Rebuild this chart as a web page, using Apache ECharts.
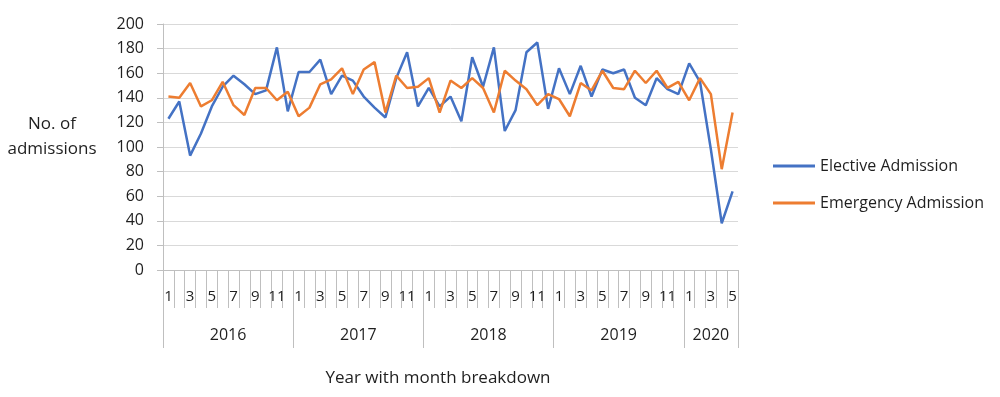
<!DOCTYPE html>
<html>
<head>
<meta charset="utf-8">
<script src="https://cdn.jsdelivr.net/npm/echarts@6/dist/echarts.min.js"></script>
<style>
  html, body { margin: 0; padding: 0; background: #fff; }
  #chart { width: 1000px; height: 397px; }
</style>
</head>
<body>
<div id="chart"></div>
<script>
// admissions per month, Jan 2016 .. May 2020
const years = ['2016', '2017', '2018', '2019', '2020']
const monthsPerYear = [12, 12, 12, 12, 5]

const elective = [
  123, 137, 93, 111, 133, 149, 158, 151, 143, 146, 181, 129,
  161, 161, 171, 143, 158, 154, 141, 132, 124, 156, 177, 133,
  148, 133, 141, 121, 173, 149, 181, 113, 130, 177, 185, 131,
  164, 143, 166, 141, 163, 160, 163, 140, 134, 156, 147, 143,
  168, 153, 98, 38, 64
]
const emergency = [
  141, 140, 152, 133, 138, 153, 134, 126, 148, 148, 138, 145,
  125, 132, 151, 155, 164, 143, 163, 169, 128, 158, 148, 149,
  156, 128, 154, 148, 156, 148, 128, 162, 154, 147, 134, 143,
  139, 125, 152, 146, 162, 148, 147, 162, 152, 162, 148, 153,
  138, 156, 143, 82, 128
]
const yTicks = [0, 200, 20]

// month categories and year group positions
const months = []
const yearStarts = []
const yearCenters = []
monthsPerYear.forEach((n) => {
  yearStarts.push(months.length)
  yearCenters.push(months.length + n / 2)
  for (let m = 1; m <= n; m++) months.push(String(m))
})
const total = months.length

const textColor = '#1f1f1f'
const lineGray = '#bfbfbf'
const font = '"Open Sans", "Liberation Sans", sans-serif'

const chart = echarts.init(document.getElementById('chart'), null, { renderer: 'canvas' })

const option = {
  animation: false,
  grid: { left: 163, right: 262, top: 24, bottom: 127 },
  legend: {
    orient: 'vertical',
    left: 768,
    top: 153,
    icon: 'rect',
    itemWidth: 42,
    itemHeight: 3,
    itemGap: 21,
    textStyle: { color: textColor, fontSize: 16, fontFamily: font },
    data: ['Elective Admission', 'Emergency Admission']
  },
  graphic: [
    {
      type: 'text',
      x: 52,
      y: 112,
      style: {
        text: 'No. of\nadmissions',
        align: 'center',
        fill: textColor,
        font: '17px ' + font,
        lineHeight: 25
      }
    },
    {
      type: 'text',
      x: 438,
      y: 370,
      style: {
        text: 'Year with month breakdown',
        align: 'center',
        fill: textColor,
        font: '17px ' + font
      }
    }
  ],
  xAxis: [
    {
      type: 'category',
      data: months,
      position: 'bottom',
      boundaryGap: true,
      axisLine: { show: true, lineStyle: { color: lineGray, width: 1 } },
      axisTick: { show: true, interval: 0, length: 38, lineStyle: { color: lineGray, width: 1 } },
      axisLabel: { interval: 1, margin: 19, color: textColor, fontSize: 15, fontFamily: font },
      splitLine: { show: false }
    },
    {
      type: 'category',
      data: months,
      position: 'bottom',
      boundaryGap: true,
      axisLine: { show: false },
      axisTick: {
        show: true,
        interval: (i) => yearStarts.includes(i),
        length: 78,
        lineStyle: { color: lineGray, width: 1 }
      },
      axisLabel: { show: false },
      splitLine: { show: false }
    },
    {
      type: 'value',
      position: 'bottom',
      min: 0,
      max: total,
      interval: 0.5,
      axisLine: { show: false },
      axisTick: { show: false },
      splitLine: { show: false },
      axisLabel: {
        margin: 57,
        color: textColor,
        fontSize: 16,
        fontFamily: font,
        showMinLabel: true,
        showMaxLabel: true,
        formatter: (v) => {
          const k = yearCenters.findIndex(c => Math.abs(c - v) < 1e-6)
          return k >= 0 ? years[k] : ''
        }
      }
    }
  ],
  yAxis: {
    type: 'value',
    min: yTicks[0],
    max: yTicks[1],
    interval: yTicks[2],
    axisLine: { show: true, lineStyle: { color: lineGray } },
    axisTick: { show: true, length: 6, lineStyle: { color: lineGray } },
    axisLabel: { margin: 19, color: textColor, fontSize: 16, fontFamily: font },
    splitLine: { show: true, lineStyle: { color: '#d9d9d9', width: 1 } }
  },
  series: [
    {
      name: 'Elective Admission',
      type: 'line',
      xAxisIndex: 0,
      data: elective,
      symbol: 'none',
      color: '#4472c4',
      lineStyle: { width: 2.5, color: '#4472c4' }
    },
    {
      name: 'Emergency Admission',
      type: 'line',
      xAxisIndex: 0,
      data: emergency,
      symbol: 'none',
      color: '#ed7d31',
      lineStyle: { width: 2.5, color: '#ed7d31' }
    }
  ]
}

chart.setOption(option)
</script>
</body>
</html>
